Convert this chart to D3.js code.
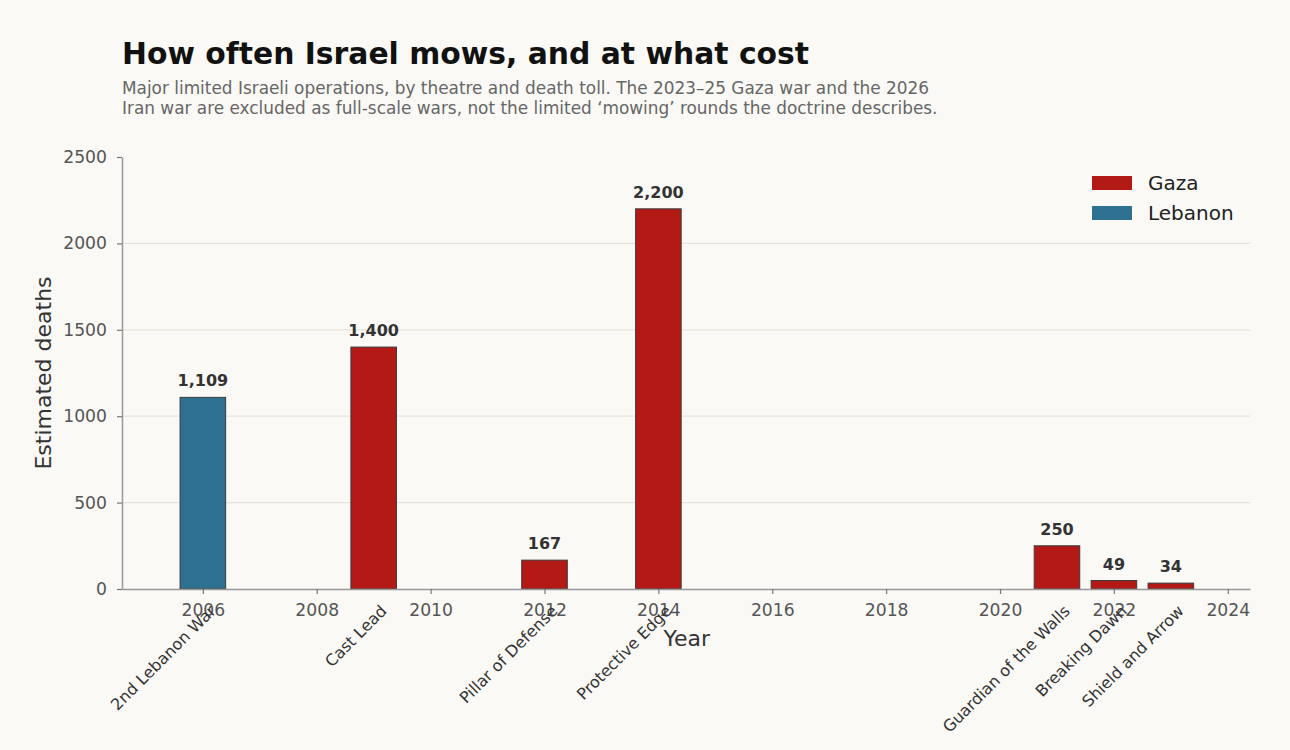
<!DOCTYPE html>
<html>
<head>
<meta charset="utf-8">
<script src="https://cdn.jsdelivr.net/npm/d3@7"></script>
<style>
  html, body { margin: 0; padding: 0; background: #faf9f6; }
  svg { display: block; font-family: "DejaVu Sans", sans-serif; }
</style>
</head>
<body>
<svg id="chart" width="1290" height="750"></svg>
<script>
// Operations, year, theatre, deaths
const operations = ['2nd Lebanon War', 'Cast Lead', 'Pillar of Defense', 'Protective Edge',
  'Guardian of the Walls', 'Breaking Dawn', 'Shield and Arrow'];
const years = [2006, 2009, 2012, 2014, 2021, 2022, 2023];
const theatres = ['Lebanon', 'Gaza', 'Gaza', 'Gaza', 'Gaza', 'Gaza', 'Gaza'];
const deaths = [1109, 1400, 167, 2200, 250, 49, 34];

const legendItems = ['Gaza', 'Lebanon'];
const yTicks = [0, 500, 1000, 1500, 2000, 2500];
const xTicks = [2006, 2008, 2010, 2012, 2014, 2016, 2018, 2020, 2022, 2024];

const colors = { Gaza: '#b31a16', Lebanon: '#2e7090' };

const svg = d3.select('#chart');
const margin = { left: 122, right: 1250, top: 157, bottom: 589 };

const x = d3.scaleLinear().domain([2004.58, 2024.39]).range([margin.left, margin.right]);
const y = d3.scaleLinear().domain([0, 2500]).range([margin.bottom, margin.top]);
const barW = x(2006.4) - x(2005.6);

// Title and subtitle
svg.append('text')
  .attr('x', 122).attr('y', 64)
  .attr('font-size', 29.8).attr('font-weight', 'bold').attr('fill', '#111')
  .text('How often Israel mows, and at what cost');

const sub = [
  'Major limited Israeli operations, by theatre and death toll. The 2023\u201325 Gaza war and the 2026',
  'Iran war are excluded as full-scale wars, not the limited \u2018mowing\u2019 rounds the doctrine describes.'
];
sub.forEach((line, i) => {
  svg.append('text')
    .attr('x', 122).attr('y', 94 + i * 20)
    .attr('font-size', 16.9).attr('fill', '#666')
    .text(line);
});

// Gridlines
svg.append('g')
  .selectAll('line')
  .data(yTicks.filter(t => t > 0 && t < 2500))
  .enter().append('line')
  .attr('x1', margin.left).attr('x2', margin.right)
  .attr('y1', d => y(d)).attr('y2', d => y(d))
  .attr('stroke', '#e8e3da').attr('stroke-width', 1.2);

// Bars
const data = operations.map((name, i) => ({
  name, year: years[i], theatre: theatres[i], deaths: deaths[i]
}));

svg.append('g')
  .selectAll('rect')
  .data(data)
  .enter().append('rect')
  .attr('x', d => x(d.year) - barW / 2)
  .attr('width', barW)
  .attr('y', d => y(d.deaths))
  .attr('height', d => y(0) - y(d.deaths))
  .attr('fill', d => colors[d.theatre])
  .attr('stroke', '#3a3a3a').attr('stroke-width', 1);

// Value labels
svg.append('g')
  .selectAll('text')
  .data(data)
  .enter().append('text')
  .attr('x', d => x(d.year))
  .attr('y', d => y(d.deaths) - 11)
  .attr('text-anchor', 'middle')
  .attr('font-size', 16).attr('font-weight', 'bold').attr('fill', '#333')
  .text(d => d3.format(',')(d.deaths));

// Axes
const yAxis = svg.append('g')
  .attr('transform', `translate(${margin.left},0)`)
  .call(d3.axisLeft(y).tickValues(yTicks).tickSize(5).tickSizeOuter(0).tickPadding(10)
    .tickFormat(d3.format('d')));
const xAxis = svg.append('g')
  .attr('transform', `translate(0,${margin.bottom})`)
  .call(d3.axisBottom(x).tickValues(xTicks).tickSize(5).tickSizeOuter(0).tickPadding(10)
    .tickFormat(d3.format('d')));

[yAxis, xAxis].forEach(ax => {
  ax.select('.domain').attr('stroke', '#999').attr('stroke-width', 1.5);
  ax.selectAll('.tick line').attr('stroke', '#777').attr('stroke-width', 1.2);
  ax.selectAll('.tick text').attr('fill', '#555').attr('font-size', 17.2)
    .attr('font-family', '"DejaVu Sans", sans-serif');
});

// Operation labels (rotated)
svg.append('g')
  .selectAll('text')
  .data(data)
  .enter().append('text')
  .attr('transform', d => `translate(${x(d.year) + 14},${612}) rotate(-45)`)
  .attr('text-anchor', 'end')
  .attr('font-size', 16).attr('fill', '#333')
  .text(d => d.name);

// Axis titles
svg.append('text')
  .attr('x', x(2014.5)).attr('y', 646)
  .attr('text-anchor', 'middle')
  .attr('font-size', 22).attr('fill', '#333')
  .text('Year');

svg.append('text')
  .attr('transform', `translate(51,${(margin.top + margin.bottom) / 2}) rotate(-90)`)
  .attr('text-anchor', 'middle')
  .attr('font-size', 22).attr('fill', '#333')
  .text('Estimated deaths');

// Legend
const legend = svg.append('g').attr('transform', 'translate(1092,176)');
legendItems.forEach((k, i) => {
  legend.append('rect')
    .attr('x', 0).attr('y', i * 30)
    .attr('width', 40).attr('height', 14)
    .attr('fill', colors[k]);
  legend.append('text')
    .attr('x', 56).attr('y', i * 30 + 14)
    .attr('font-size', 20).attr('fill', '#222')
    .text(k);
});
</script>
</body>
</html>
